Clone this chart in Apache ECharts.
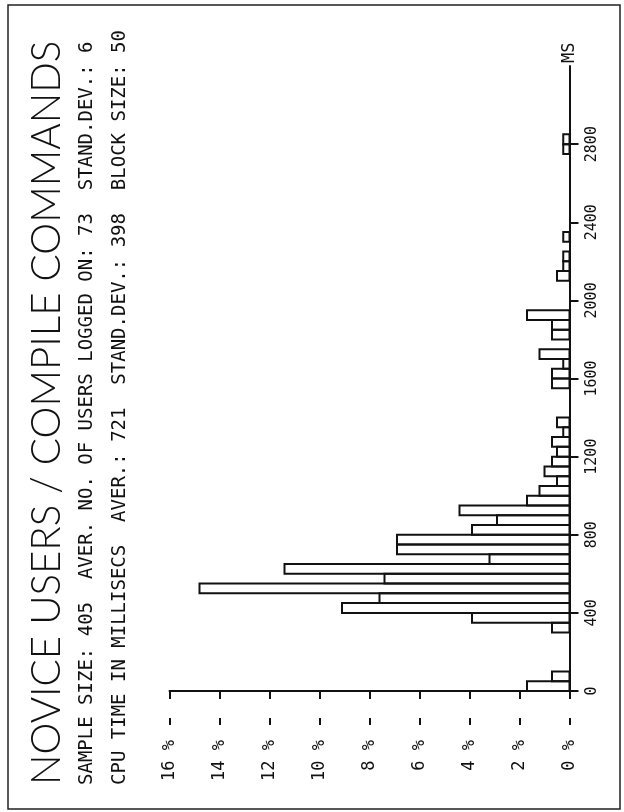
<!DOCTYPE html>
<html>
<head>
<meta charset="utf-8">
<script src="https://cdn.jsdelivr.net/npm/echarts@6/dist/echarts.min.js"></script>
<style>
  html, body { margin: 0; padding: 0; background: #fff; }
  #chart { width: 624px; height: 812px; }
</style>
</head>
<body>
<div id="chart"></div>
<script>
// ---- data ----
const titleText = 'NOVICE USERS / COMPILE COMMANDS';
const subtitle1 = 'SAMPLE SIZE: 405  AVER. NO. OF USERS LOGGED ON: 73  STAND.DEV.: 6';
const subtitle2 = 'CPU TIME IN MILLISECS  AVER.: 721  STAND.DEV.: 398  BLOCK SIZE: 50';
const axisUnit = 'MS';
const blockSize = 50;                 // ms per histogram block
// start of each non-empty 50 ms block
const blockStarts = [0, 50, 300, 350, 400, 450, 500, 550, 600, 650, 700, 750, 800, 850, 900, 950,
  1000, 1050, 1100, 1150, 1200, 1250, 1300, 1350, 1550, 1600, 1650, 1700, 1800, 1850, 1900,
  2100, 2150, 2200, 2300, 2750, 2800];
// percentage of samples in each block
const percents = [1.7, 0.7, 0.7, 3.9, 9.1, 7.6, 14.8, 7.4, 11.4, 3.2, 6.9, 6.9, 3.9, 2.9, 4.4, 1.7,
  1.2, 0.5, 1.0, 0.7, 0.5, 0.7, 0.25, 0.5, 0.7, 0.7, 0.25, 1.2, 0.7, 0.7, 1.7,
  0.5, 0.25, 0.25, 0.25, 0.25, 0.25];
const msTicks = [0, 400, 800, 1200, 1600, 2000, 2400, 2800];
const pctTicks = [0, 2, 4, 6, 8, 10, 12, 14, 16];

// ---- chart ----
const seriesData = blockStarts.map((s, i) => [s, percents[i]]);
const INK = '#111';
const MONO = '"DejaVu Sans Mono", "Liberation Mono", monospace';

// fit the thin title font to the length of the original title line
const TITLE_FAMILY = 'Lato, "Liberation Sans", Arial, sans-serif';
const measureCtx = document.createElement('canvas').getContext('2d');
measureCtx.font = '300 100px ' + TITLE_FAMILY;
let titleSize = Math.round(745 / measureCtx.measureText(titleText).width * 1000) / 10;
if (!isFinite(titleSize) || titleSize < 30 || titleSize > 46) titleSize = 38;

const chart = echarts.init(document.getElementById('chart'), null, { renderer: 'canvas' });

const pctAxisBase = {
  type: 'value', gridIndex: 0, position: 'bottom', inverse: true,
  min: pctTicks[0], max: pctTicks[pctTicks.length - 1], interval: 2,
  offset: 34, splitLine: { show: false }
};

chart.setOption({
  animation: false,
  backgroundColor: '#fff',
  grid: { left: 169.5, right: 54.5, top: 66, bottom: 121, outerBoundsMode: 'none', containLabel: false },
  xAxis: [
    Object.assign({}, pctAxisBase, {
      axisLine: { show: true, lineStyle: { color: INK, width: 2 } },
      axisTick: { show: true, inside: false, length: 8, lineStyle: { color: INK, width: 2 } },
      axisLabel: {
        show: true, rotate: 90, margin: 15, color: INK,
        fontFamily: MONO, fontSize: 17,
        formatter: v => v + ' %'
      }
    }),
    Object.assign({}, pctAxisBase, {
      axisLine: { show: false },
      axisTick: { show: true, inside: true, length: 7, lineStyle: { color: INK, width: 2 } },
      axisLabel: { show: false }
    })
  ],
  yAxis: {
    type: 'value', position: 'right', min: 0, max: 3200, interval: 400,
    splitLine: { show: false },
    axisLine: { show: true, onZero: false, lineStyle: { color: INK, width: 2 } },
    axisTick: { show: true, inside: false, length: 9, customValues: msTicks, lineStyle: { color: INK, width: 2 } },
    axisLabel: {
      show: true, rotate: 90, margin: 15, color: INK,
      fontFamily: MONO, fontSize: 15, customValues: msTicks,
      formatter: v => String(v)
    },
    name: axisUnit, nameLocation: 'end', nameGap: 3, nameRotate: 90,
    nameTextStyle: { color: INK, fontFamily: MONO, fontSize: 17 }
  },
  series: [{
    type: 'custom',
    xAxisIndex: 0, yAxisIndex: 0,
    encode: { x: 1, y: 0 },
    data: seriesData,
    renderItem: function (params, api) {
      const start = api.value(0);
      const pct = api.value(1);
      const a = api.coord([pct, start + blockSize]);
      const b = api.coord([0, start]);
      return {
        type: 'rect',
        shape: { x: a[0], y: a[1], width: b[0] - a[0], height: b[1] - a[1] },
        style: { fill: 'none', stroke: INK, lineWidth: 2 }
      };
    }
  }],
  graphic: [
    { type: 'rect', shape: { x: 8, y: 5, width: 612, height: 804 },
      style: { fill: 'none', stroke: '#222', lineWidth: 1.5 }, silent: true },
    { type: 'text', x: 47, y: 785, rotation: Math.PI / 2,
      style: { text: titleText, fill: INK, font: '300 ' + titleSize + 'px ' + TITLE_FAMILY,
               align: 'left', verticalAlign: 'middle' } },
    { type: 'text', x: 87, y: 785, rotation: Math.PI / 2,
      style: { text: subtitle1, fill: INK, font: '19px ' + MONO,
               align: 'left', verticalAlign: 'middle' } },
    { type: 'text', x: 120, y: 785, rotation: Math.PI / 2,
      style: { text: subtitle2, fill: INK, font: '19px ' + MONO,
               align: 'left', verticalAlign: 'middle' } }
  ]
});
</script>
</body>
</html>
